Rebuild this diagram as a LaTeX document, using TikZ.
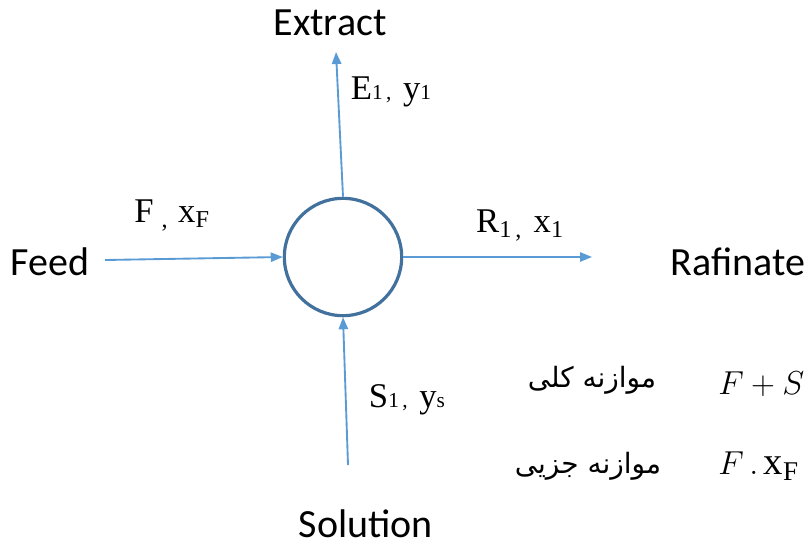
\documentclass[tikz,border=0pt]{standalone}
\usepackage{fontspec}
\setmainfont{Liberation Serif}
\setsansfont{Carlito}
\newfontfamily\arabicfont[Script=Arabic]{DejaVu Sans}
\TeXXeTstate=1
\usetikzlibrary{arrows.meta, positioning}
\definecolor{flowblue}{HTML}{5B9BD5}
\definecolor{tankblue}{HTML}{41719C}
\tikzset{
  flow/.style={draw=flowblue, line width=1.4pt, -{Triangle[length=9pt, width=7pt]}},
  tank/.style={draw=tankblue, line width=2.4pt, circle, minimum size=88pt, inner sep=0pt},
  stream/.style={font=\sffamily\fontsize{30}{34}\selectfont, inner sep=0pt},
  lab/.style={font=\fontsize{26}{30}\selectfont, inner sep=0pt},
  balance/.style={font=\arabicfont\fontsize{21}{24}\selectfont, inner sep=0pt},
  eqn/.style={font=\fontsize{29}{33}\selectfont, inner sep=0pt, anchor=west}
}
\newcommand{\low}[1]{{\fontsize{16}{16}\selectfont #1}}
\begin{document}
\begin{tikzpicture}[x=0.75pt, y=-0.75pt]
  \useasboundingbox (0,0) rectangle (806,546);
  \clip (0,0) rectangle (806,546);
  % mixer
  \node[tank] (mix) at (343,257) {};
  % stream ends
  \coordinate (feedin) at (105,260);
  \coordinate (extout) at (336,52);
  \coordinate (rafout) at (592,257);
  \coordinate (solin) at (348,465);
  \draw[flow] (feedin) -- (mix.west);
  \draw[flow] (mix.north) -- (extout);
  \draw[flow] (mix.east) -- (rafout);
  \draw[flow] (solin) -- (mix.south);
  % stream names
  \node[stream] (feed) at (50,262) {Feed};
  \node[stream] (extract) at (330,23) {Extract};
  \node[stream] (rafinate) at (738,262) {Rafinate};
  \node[stream] (solution) at (366,524) {Solution};
  % stream labels
  \node[lab] (flab) at (172,216) {F\textsubscript{\,\,,\,}\,x\textsubscript{F}};
  \node[lab] (rlab) at (520,226) {R\textsubscript{1\,,}\,\,x\textsubscript{1}};
  \node[lab] (elab) at (391,92) {E\low{1\,,}\,\,y\low{1}};
  \node[lab] (slab) at (407,400) {S\low{1\,,}\,\,y\low{s}};
  % balances
  \node[balance] (total) at (592,380) {\beginR موازنه کلی\endR};
  \node[balance] (partial) at (588,466) {\beginR موازنه جزیی\endR};
  \node[eqn] (toteq) at (718,384) {$F + S$};
  \node[eqn] (parteq) at (718,466) {$F\,.\,\mathrm{x}_{\mathrm{F}}$};
\end{tikzpicture}
\end{document}
